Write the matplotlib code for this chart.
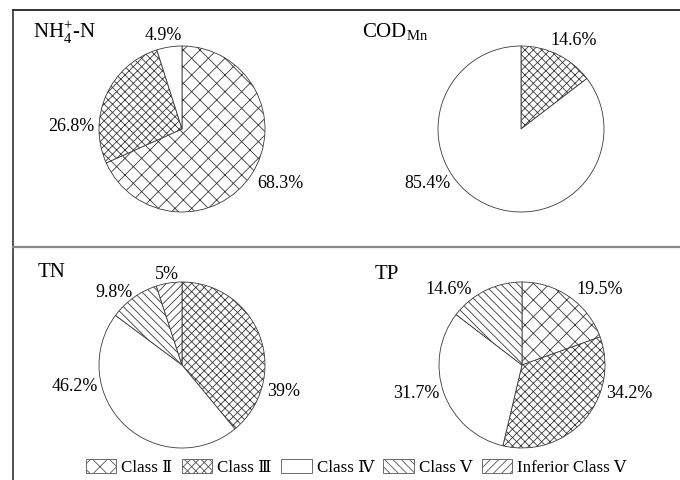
import matplotlib
matplotlib.use("Agg")
import matplotlib.pyplot as plt
from matplotlib.lines import Line2D
from matplotlib.patches import Patch

plt.rcParams['font.family'] = ['Liberation Serif', 'DejaVu Serif']
plt.rcParams['mathtext.fontset'] = 'custom'
plt.rcParams['mathtext.rm'] = 'Liberation Serif'
plt.rcParams['hatch.linewidth'] = 0.6

# Water quality class shares (%) per indicator
classes = ['Class Ⅱ', 'Class Ⅲ', 'Class Ⅳ', 'Class Ⅴ', 'Inferior Class Ⅴ']
nh4 = [68.3, 26.8, 4.9, 0, 0]
cod = [0, 14.6, 85.4, 0, 0]
tn = [0, 39, 46.2, 9.8, 5]
tp = [19.5, 34.2, 31.7, 14.6, 0]

titles = [r'NH$_\mathrm{4}^\mathrm{+}$-N', r'COD$_\mathrm{Mn}$', 'TN', 'TP']
hatches = ['xx', 'xxxx', '', '\\\\\\\\', '////']
edge = '#3a3a3a'

W, H, DPI = 680, 481, 100
fig = plt.figure(figsize=(W / DPI, H / DPI), dpi=DPI)

R = 83.0  # pie radius in pixels
centers = [(182, 130), (521, 130), (182, 366), (522, 366)]
title_pos = [(33, 32), (362, 32), (38, 273), (375, 275)]
# label offsets relative to pie centre, in radius units
label_off = [
    [(1.18, -0.64), (-1.33, 0.04), (-0.22, 1.14)],
    [(0.64, 1.08), (-1.13, -0.64)],
    [(1.23, -0.31), (-1.29, -0.25), (-0.82, 0.88), (-0.18, 1.10)],
    [(0.94, 0.92), (1.29, -0.33), (-1.27, -0.33), (-0.88, 0.92)],
]

hw, hh = 170, 115
for data, (cx, cy), title, (tx, ty), offs in zip(
        [nh4, cod, tn, tp], centers, titles, title_pos, label_off):
    ax = fig.add_axes([(cx - hw) / W, (H - cy - hh) / H, 2 * hw / W, 2 * hh / H])
    idx = [i for i, v in enumerate(data) if v > 0]
    vals = [data[i] for i in idx]
    wedges, _ = ax.pie(vals, startangle=90, counterclock=False,
                       colors=['white'] * len(vals),
                       wedgeprops=dict(edgecolor=edge, linewidth=0.6))
    for w, i in zip(wedges, idx):
        w.set_hatch(hatches[i])
    for v, (dx, dy) in zip(vals, offs):
        ax.text(dx, dy, f"{v:g}%", ha='center', va='center', fontsize=13)
    ax.set_xlim(-hw / R, hw / R)
    ax.set_ylim(-hh / R, hh / R)
    ax.set_aspect('auto')
    ax.axis('off')
    fig.text(tx / W, 1 - ty / H, title, fontsize=15, ha='left', va='center')

# panel frame lines
fig.add_artist(Line2D([13 / W, 1], [1 - 11 / H, 1 - 11 / H], color='#111111', lw=1.2))
fig.add_artist(Line2D([13 / W, 13 / W], [0, 1 - 11 / H], color='#333333', lw=1.2))
fig.add_artist(Line2D([13 / W, 1], [1 - 248 / H, 1 - 248 / H], color='#888888', lw=1.6))

handles = [Patch(facecolor='white', edgecolor='#555555', linewidth=0.6, hatch=h) for h in hatches]
fig.legend(handles, classes, loc='center', bbox_to_anchor=(356 / W, 1 - 468 / H),
           ncol=5, frameon=False, fontsize=12.2, handlelength=1.8, handleheight=0.9,
           handletextpad=0.3, columnspacing=0.55, borderpad=0.1)

fig.savefig('out.png', dpi=DPI, facecolor='white')
